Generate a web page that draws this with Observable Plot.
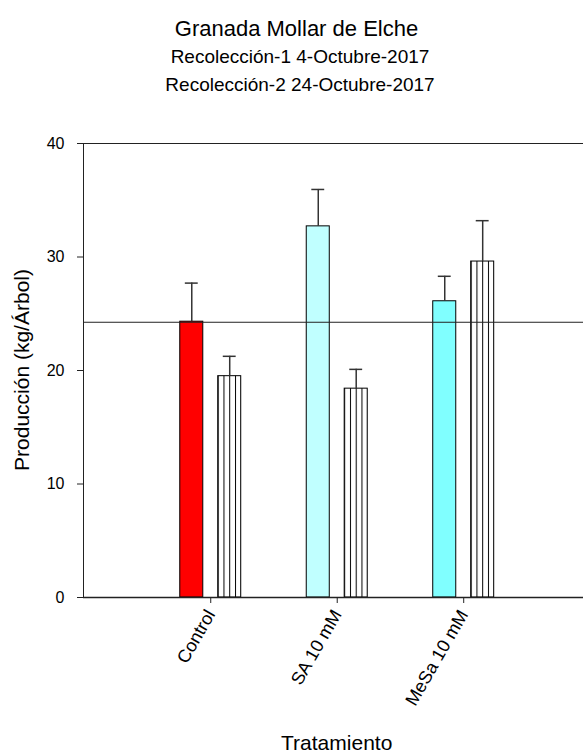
<!DOCTYPE html>
<html>
<head>
<meta charset="utf-8">
<script src="https://cdn.jsdelivr.net/npm/d3@7"></script>
<script src="https://cdn.jsdelivr.net/npm/@observablehq/plot@0.6"></script>
<style>
  html, body { margin: 0; padding: 0; background: #fff; }
  #chart { position: relative; width: 583px; height: 754px; overflow: hidden; }
</style>
</head>
<body>
<div id="chart"></div>
<script>
// ---- data ----
const categories = ["Control", "SA 10 mM", "MeSa 10 mM"];
const harvest1 = [24.3, 32.7, 26.1];       // Recolección-1 (solid bars)
const harvest1Err = [3.4, 3.25, 2.2];
const harvest2 = [19.5, 18.4, 29.6];       // Recolección-2 (hatched bars)
const harvest2Err = [1.75, 1.7, 3.6];
const harvest1Colors = ["#ff0000", "#c0ffff", "#80ffff"];
const referenceLine = 24.25;
const yTicks = [0, 10, 20, 30, 40];
const titleText = "Granada Mollar de Elche";
const subtitle1 = "Recolección-1 4-Octubre-2017";
const subtitle2 = "Recolección-2 24-Octubre-2017";
const xLabel = "Tratamiento";
const yLabel = "Producción (kg/Árbol)";

// ---- layout ----
const W = 583, H = 754;
const xDomain = [-1.006, 2.947];
const halfGap = 0.059, barW = 0.182, capHalf = 0.051;

const rows1 = categories.map((c, i) => ({i, cat: c, value: harvest1[i], err: harvest1Err[i], color: harvest1Colors[i], c: i - halfGap - barW / 2}));
const rows2 = categories.map((c, i) => ({i, cat: c, value: harvest2[i], err: harvest2Err[i], c: i + halfGap + barW / 2}));
const all = rows1.concat(rows2);

const plot = Plot.plot({
  width: W,
  height: H,
  marginLeft: 83,
  marginRight: 0,
  marginTop: 143,
  marginBottom: 157,
  style: {fontFamily: "'Liberation Sans', Arial, sans-serif", background: "transparent", color: "#000"},
  x: {type: "linear", domain: xDomain},
  y: {domain: [0, 40]},
  color: {type: "identity"},
  marks: [
    Plot.rect(rows1, {x1: d => d.c - barW / 2, x2: d => d.c + barW / 2, y1: 0, y2: "value", fill: "color", stroke: "#000", strokeWidth: 1}),
    Plot.rect(rows2, {x1: d => d.c - barW / 2, x2: d => d.c + barW / 2, y1: 0, y2: "value", fill: "url(#hatch)", stroke: "#000", strokeWidth: 1}),
    Plot.ruleX(all, {x: "c", y1: "value", y2: d => d.value + d.err, stroke: "#333", strokeWidth: 1.5}),
    Plot.ruleY(all, {y: d => d.value + d.err, x1: d => d.c - capHalf, x2: d => d.c + capHalf, stroke: "#333", strokeWidth: 1.5}),
    Plot.ruleY([referenceLine], {stroke: "#222", strokeWidth: 1}),
    Plot.ruleY([40], {stroke: "#222", strokeWidth: 1}),
    Plot.ruleY([0], {stroke: "#222", strokeWidth: 1.5}),
    Plot.ruleX([xDomain[0]], {stroke: "#222", strokeWidth: 1}),
    Plot.axisY({ticks: yTicks, tickSize: 6, tickPadding: 13, fontSize: 16, label: null, stroke: "#222"}),
    Plot.axisX({ticks: categories.map((c, i) => i), tickFormat: i => categories[i], tickRotate: -60, tickSize: 6, tickPadding: 8, fontSize: 18, label: null, stroke: "#222"})
  ]
});

const svg = d3.select(plot);
// hatch pattern for the second harvest
const defs = svg.insert("defs", ":first-child");
const pat = defs.append("pattern").attr("id", "hatch")
  .attr("patternUnits", "objectBoundingBox").attr("x", 0).attr("y", 0)
  .attr("width", 0.25).attr("height", 1);
pat.append("rect").attr("x", 0).attr("y", 0).attr("width", 100).attr("height", 2000).attr("fill", "#fff");
pat.append("rect").attr("x", 0).attr("y", 0).attr("width", 1).attr("height", 2000).attr("fill", "#000");

const font = "'Liberation Sans', Arial, sans-serif";
function addText(txt, x, y, size, transform) {
  const t = svg.append("text")
    .attr("font-family", font).attr("font-size", size)
    .attr("text-anchor", "middle").attr("fill", "#000").text(txt);
  if (transform) t.attr("transform", transform);
  else t.attr("x", x).attr("y", y);
  return t;
}
addText(titleText, 296.5, 36, 22);
addText(subtitle1, 300, 63, 19);
addText(subtitle2, 300, 90.5, 19);
addText(xLabel, 336.7, 750, 21);
addText(yLabel, 0, 0, 21, "translate(29,370) rotate(-90)");

document.getElementById("chart").appendChild(plot);
</script>
</body>
</html>
